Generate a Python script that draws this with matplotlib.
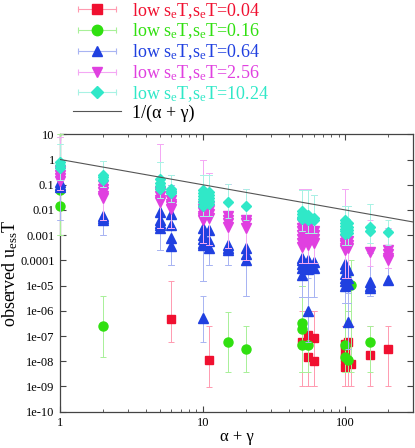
import numpy as np
import matplotlib.pyplot as plt
from matplotlib.lines import Line2D
from matplotlib.legend_handler import HandlerLine2D
from matplotlib.ticker import FuncFormatter, LogLocator, NullFormatter, NullLocator

plt.rcParams["font.family"] = ["Liberation Serif", "DejaVu Serif"]
plt.rcParams["mathtext.fontset"] = "custom"
plt.rcParams["mathtext.rm"] = "Liberation Serif"
plt.rcParams["mathtext.it"] = "Liberation Serif:italic"

# each series: alpha+gamma columns, the points in each column,
# and the error bar bounds (lower, upper) for that column

# low s_eT, s_eT = 0.04
red_x = [6, 11, 50, 55, 60, 100, 105, 110, 150, 200]
red_y = [[4.8e-7], [1.1e-8], [6e-8], [1.1e-7, 1.45e-8], [8.7e-8, 1.07e-8],
         [5e-8, 2.5e-8, 1.3e-8, 6e-9], [6e-8], [8e-9], [1.8e-8], [3e-8]]
red_lo = [6e-8, 9.5e-10, 1e-9, 1e-9, 1e-9, 1e-9, 1e-9, 1e-9, 1e-9, 1e-9]
red_hi = [1.5e-5, 2.4e-7, 1e-6, 1e-6, 1e-6, 2.4e-7, 2.4e-7, 2.4e-7, 2.4e-7, 2.4e-7]

# low s_eT, s_eT = 0.16
green_x = [1, 2, 15, 20, 50, 55, 100, 105, 110, 150]
green_y = [[0.06, 0.015], [2.5e-7], [6e-8], [3e-8], [3.3e-7, 1.9e-7, 4.6e-8],
           [4.6e-8], [4.6e-8, 1.5e-8], [1.1e-8], [1.1e-5], [6e-8]]
green_lo = [0.001, 1.45e-8, 3.7e-9, 3.7e-9, 3.7e-9, 3.7e-9, 3.7e-9, 3.7e-9, 3.7e-9, 3.7e-9]
green_hi = [10, 3.8e-6, 9.3e-7, 2.4e-7, 1e-5, 1e-6, 2e-5, 1e-6, 1e-4, 2.4e-7]

# low s_eT, s_eT = 0.64
blue_x = [1, 2, 5, 6, 10, 10, 11, 15, 20, 50, 55, 55, 60, 100, 105, 105, 150, 200]
blue_y = [[0.13, 0.1, 0.08], [0.006, 0.005, 0.004],
          [0.008, 0.004, 0.003, 0.0025, 0.002], [0.007, 0.0025, 0.0008, 0.00037],
          [0.002, 0.001, 0.0007, 0.0005, 0.0004], [5e-7],
          [0.0016, 0.0006, 0.0003], [0.0004, 0.0003, 0.00025],
          [0.0003, 0.00018, 0.0001], [0.00012, 0.0001, 7e-5, 5e-5, 2.6e-5],
          [0.0001, 6e-5, 4.5e-5], [1e-6], [9e-5, 5e-5],
          [7e-5, 5e-5, 3e-5, 2e-5, 1.5e-5, 1e-5], [4e-5, 2e-5, 1.2e-5], [3.7e-7],
          [1.4e-5, 1e-5, 8e-6], [1.6e-5]]
blue_lo = [0.004, 0.001, 2.5e-4, 6.5e-5, 1.5e-5, 6e-8, 6.5e-5, 6.5e-5, 4e-6,
           3.6e-6, 3.6e-6, 6e-8, 3.6e-6, 2e-6, 2e-6, 3e-8, 4e-6, 1.3e-5]
blue_hi = [0.9, 0.06, 0.1, 0.1, 0.03, 3.8e-6, 0.02, 0.004, 0.003,
           0.002, 0.002, 2e-5, 0.001, 0.0008, 0.0005, 5e-6, 0.0002, 0.0002]

# low s_eT, s_eT = 2.56
magenta_x = [1, 2, 5, 6, 10, 11, 15, 20, 50, 55, 60, 100, 105, 150, 200]
magenta_y = [[0.35, 0.25, 0.18, 0.14], [0.1, 0.07, 0.05, 0.035, 0.03],
             [0.05, 0.035, 0.025, 0.02], [0.035, 0.025, 0.018, 0.014, 0.011],
             [0.015, 0.011, 0.008, 0.006, 0.005, 0.004], [0.014, 0.01, 0.007, 0.005],
             [0.006, 0.004, 0.003, 0.0022], [0.004, 0.003, 0.002],
             [0.003, 0.002, 0.0014, 0.001, 0.0007, 0.0005, 0.00035],
             [0.002, 0.0013, 0.0009, 0.0006, 0.0004], [0.0015, 0.001, 0.0007, 0.0005],
             [0.0007, 0.0005, 0.0004, 0.0003, 0.00025], [0.0006, 0.0004, 0.0003],
             [0.00022], [0.00025, 0.00018, 0.00013, 0.0001]]
magenta_lo = [0.06, 0.004, 0.002, 0.002, 0.0005, 0.0004, 0.0003, 0.0001,
              8e-5, 8e-5, 8e-5, 2e-5, 2e-5, 6e-5, 5e-5]
magenta_hi = [8, 0.9, 4, 0.25, 1, 0.3, 0.11, 0.065, 0.065, 0.065, 0.04,
              0.065, 0.015, 0.004, 0.002]

# low s_eT, s_eT = 10.24
cyan_x = [1, 2, 5, 6, 10, 11, 15, 20, 50, 55, 60, 100, 105, 150, 200]
cyan_y = [[0.8, 0.6, 0.45], [0.25, 0.2, 0.16], [0.17, 0.12, 0.09, 0.07],
          [0.07, 0.055, 0.045], [0.06, 0.045, 0.035, 0.027, 0.02, 0.015],
          [0.05, 0.038, 0.03, 0.022, 0.018], [0.02], [0.014],
          [0.009, 0.007, 0.0055, 0.0045], [0.0065, 0.005, 0.004], [0.005, 0.004],
          [0.004, 0.003, 0.0023, 0.0018, 0.0014, 0.0011], [0.003, 0.0022, 0.0016, 0.0012],
          [0.0022, 0.0015], [0.0013]]
cyan_lo = [0.15, 0.08, 0.03, 0.02, 0.006, 0.006, 0.005, 0.004, 0.0015, 0.0012,
           0.0012, 0.0004, 0.0004, 0.0005, 0.0004]
cyan_hi = [4, 0.9, 0.8, 0.25, 0.25, 0.25, 0.11, 0.065, 0.06, 0.06, 0.04,
           0.015, 0.015, 0.018, 0.004]

se_values = ["0.04", "0.16", "0.64", "2.56", "10.24"]

series = [
    (red_x, red_y, red_lo, red_hi, "s", 6.0, "#f01030", "#ff9ab0"),
    (green_x, green_y, green_lo, green_hi, "o", 6.5, "#30e010", "#a8f098"),
    (blue_x, blue_y, blue_lo, blue_hi, "^", 6.5, "#2040e0", "#a8b4f2"),
    (magenta_x, magenta_y, magenta_lo, magenta_hi, "v", 6.5, "#e040e0", "#f4a8f4"),
    (cyan_x, cyan_y, cyan_lo, cyan_hi, "D", 5.0, "#30e8c8", "#a8f2e4"),
]

fig = plt.figure(figsize=(4.15, 4.48), dpi=100, facecolor="white")
ax = fig.add_axes([0.1453, 0.081, 0.8506, 0.6192])
ax.set_xscale("log")
ax.set_yscale("log")

handles, labels, hmap, lcolors = [], [], {}, []
for i, (xs, ys, lo, hi, marker, ms, col, ecol) in enumerate(series):
    z = 2 + i
    for x, vals, l, h in zip(xs, ys, lo, hi):
        vals = np.asarray(vals, dtype=float)
        xx = np.full(len(vals), float(x))
        ax.errorbar(xx, vals, yerr=[vals - l, h - vals], fmt="none",
                    ecolor=ecol, elinewidth=0.7, capsize=2, capthick=0.7,
                    zorder=z, clip_on=False)
        ax.plot(xx, vals, ls="none", marker=marker, ms=ms, color=col,
                mec=col, zorder=z + 0.5, clip_on=False)
    bar = Line2D([], [], color=ecol, lw=0.8, marker="|", ms=5, mew=0.8)
    mk = Line2D([], [], ls="none", marker=marker, ms=ms + 1, color=col)
    hmap[bar] = HandlerLine2D(numpoints=2)
    handles.append((bar, mk))
    labels.append(r"low s$_{\mathrm{e}}$T,s$_{\mathrm{e}}$T=" + se_values[i])
    lcolors.append(col)

# reference curve 1/(alpha+gamma)
xl = np.geomspace(1, 300, 50)
ax.plot(xl, 1 / xl, color="#555555", lw=0.8, zorder=10)
handles.append(Line2D([], [], color="#555555", lw=0.8))
labels.append("1/(α + γ)")
lcolors.append("black")

ax.set_xlim(1, 300)
ax.set_ylim(1e-10, 10)
ax.set_yticks([10.0 ** k for k in range(-10, 2)])
ax.yaxis.set_minor_locator(NullLocator())
ax.xaxis.set_major_locator(LogLocator(base=10))
ax.xaxis.set_minor_locator(LogLocator(base=10, subs=np.arange(2, 10)))
ax.xaxis.set_minor_formatter(NullFormatter())
fmt = FuncFormatter(lambda v, p: "%g" % v)
ax.xaxis.set_major_formatter(fmt)
ax.yaxis.set_major_formatter(fmt)
ax.tick_params(which="both", direction="in", top=True, right=True,
               labelsize=9, pad=4, color="#444444")
ax.tick_params(which="major", length=4)
ax.tick_params(which="minor", length=2)
for s in ax.spines.values():
    s.set_color("#444444")
    s.set_linewidth(0.9)

ax.set_xlabel("α + γ", fontsize=12, labelpad=0)
ax.set_ylabel(r"observed u$_{\mathrm{ess}}$T", fontsize=13, labelpad=0)

ax.legend(handles, labels, handler_map=hmap, loc="upper left",
          bbox_to_anchor=(0.175, 0.998), bbox_transform=fig.transFigure,
          frameon=False, fontsize=13, labelcolor=lcolors, handlelength=2.7,
          handletextpad=0.6, labelspacing=0.05, borderpad=0, borderaxespad=0)

fig.savefig("out.png", dpi=100, facecolor="white")
